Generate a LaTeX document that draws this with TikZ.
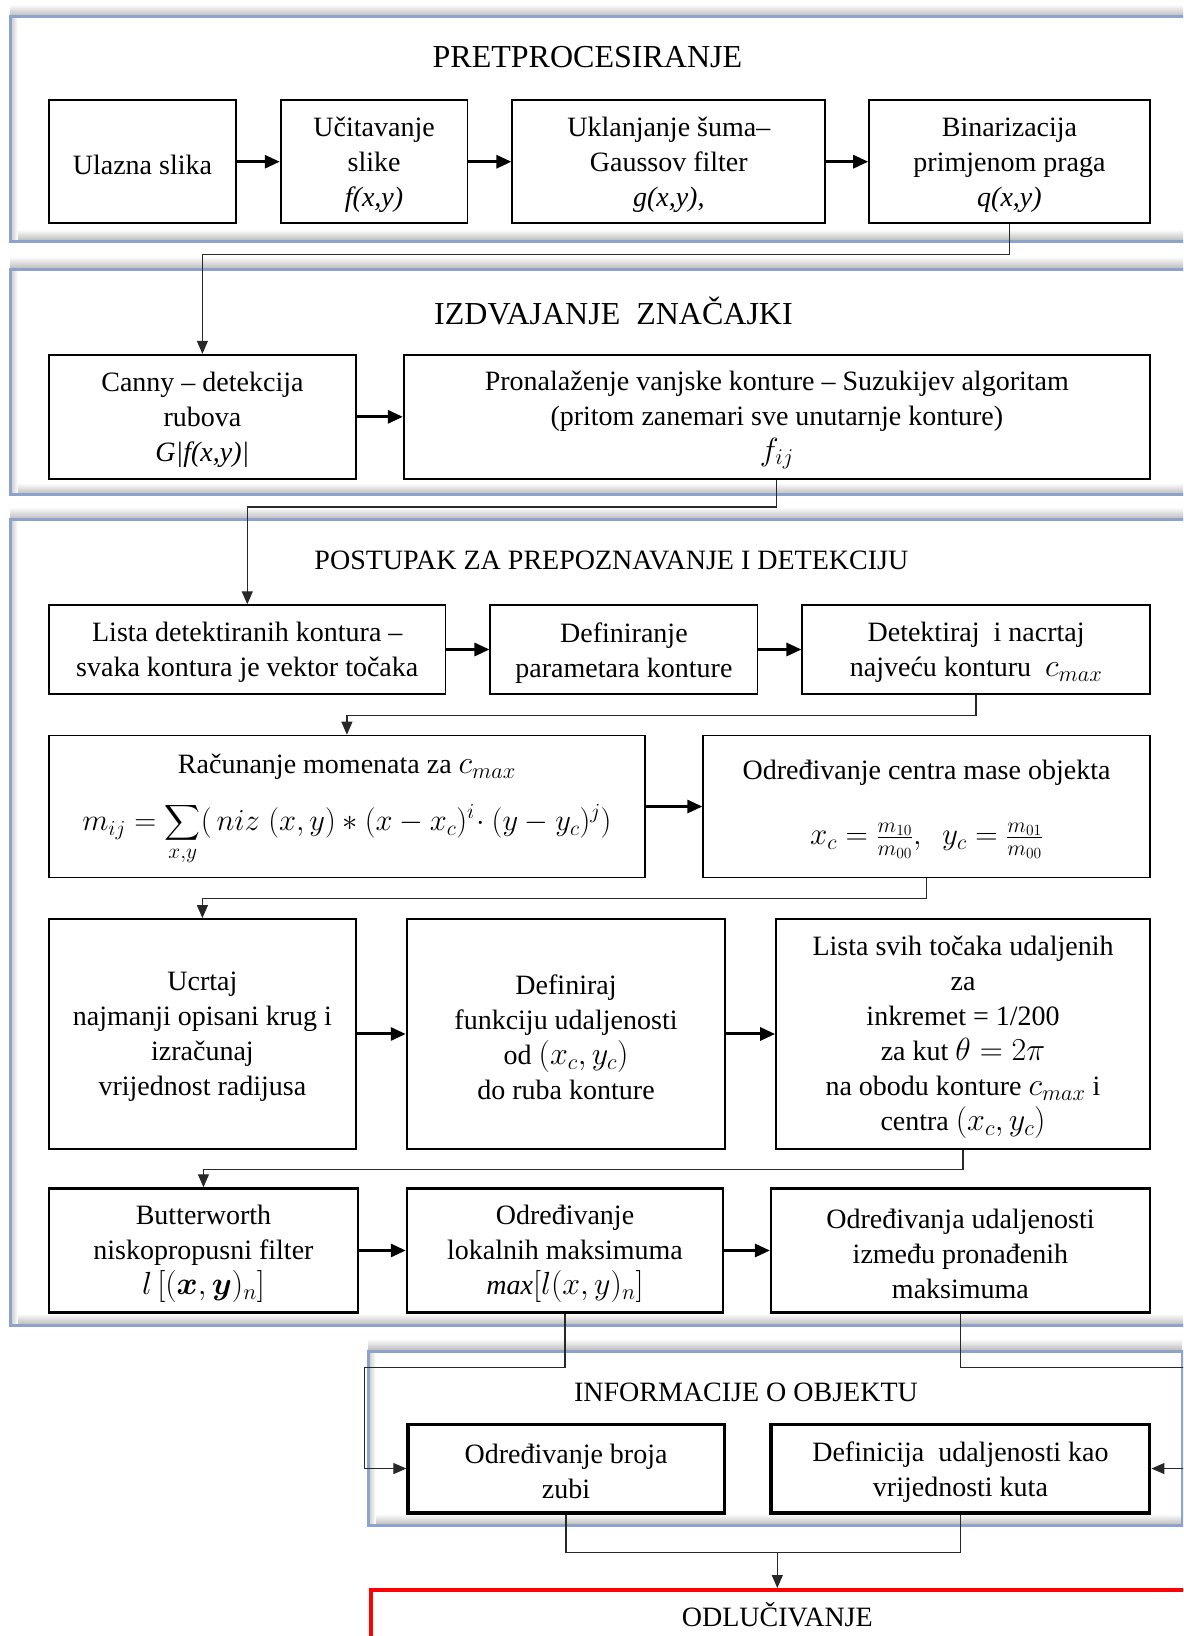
\RequirePackage{fix-cm}
\documentclass[tikz,border=0pt]{standalone}
\usepackage{amsmath}
\usepackage{fontspec}
\setmainfont{Liberation Serif}
\usetikzlibrary{arrows.meta,calc}
\definecolor{frameblue}{RGB}{141,163,204}
\definecolor{conngray}{RGB}{40,40,40}
\tikzset{
  boxs/.style={draw=black, line width=1.8pt, fill=white},
  boxt/.style={boxs, line width=2.3pt},
  boxi/.style={boxs, line width=3.2pt},
  txt/.style={align=center, inner sep=0pt, font=\fontsize{28}{35}\selectfont},
  thickarrow/.style={line width=3pt, -{Triangle[length=15pt,width=13pt]}},
  conn/.style={line width=1.2pt, draw=conngray, -{Triangle[length=13pt,width=11pt]}},
  connplain/.style={line width=1.2pt, draw=conngray},
  ttl/.style={font=\fontsize{28}{34}\selectfont, inner sep=0pt},
  bigttl/.style={font=\fontsize{32}{38}\selectfont, inner sep=0pt},
}
\newcommand\M[1]{{\fontsize{32}{35}\selectfont$#1$}}
\newcommand\mybox[7]{%
  \node[#1, minimum width={(#5-#3)*1.0432pt}, minimum height={(#6-#4)*1.0432pt}] (#2) at ({(#3+#5)/2},{(#4+#6)/2}) {};
  \node[txt] (#2t) at ({(#3+#5)/2},{(#4+#6)/2+3}) {#7};}
\newcommand\mypanel[4]{%
  \shade[top color=white, bottom color=black!28] (#1,#2-12) rectangle (#3,#2);
  \shade[top color=white, bottom color=black!28] (#1,#4-11) rectangle (#3,#4);
  \shade[left color=black!22, right color=white] (#1,#2) rectangle (#1+7,#4);
  \draw[frameblue, line width=3pt] (#1,#2) rectangle (#3,#4);}
\begin{document}
\begin{tikzpicture}[x=1.0432pt, y=-1.0432pt]
\useasboundingbox (0,0) rectangle (1134,1568);
\clip (0,0) rectangle (1134,1568);
\fill[white] (0,0) rectangle (1134,1568);

% panels
\mypanel{10}{16}{1160}{231}
\mypanel{10}{258}{1160}{474}
\mypanel{10}{498}{1160}{1270}
\mypanel{353}{1295}{1133}{1462}
\draw[red, line width=4pt] (356,1524) rectangle (1170,1620);

% titles
\node[bigttl] (t1) at (563,55) {PRETPROCESIRANJE};
\node[bigttl] (t2) at (588,298) {IZDVAJANJE\ \ ZNAČAJKI};
\node[ttl] (t3) at (586,537) {POSTUPAK ZA PREPOZNAVANJE I DETEKCIJU};
\node[ttl] (t4) at (715,1334) {INFORMACIJE O OBJEKTU};
\node[ttl] (t5) at (745,1548) {ODLUČIVANJE};

% row 1
\mybox{boxs}{ul}{47}{96}{226}{214}{Ulazna slika}
\mybox{boxs}{uc}{269}{96}{448}{214}{Učitavanje\\slike\\\textit{f(x,y)}}
\mybox{boxs}{uk}{491}{96}{791}{214}{Uklanjanje šuma–\\Gaussov filter\\\textit{g(x,y),}}
\mybox{boxs}{bin}{833}{96}{1102}{214}{Binarizacija\\primjenom praga\\\textit{q(x,y)}}

% row 2
\mybox{boxs}{can}{47}{340}{341}{459}{Canny – detekcija\\rubova\\\textit{G|f(x,y)|}}
\mybox{boxs}{pro}{387}{340}{1102}{459}{Pronalaženje vanjske konture – Suzukijev algoritam\\(pritom zanemari sve unutarnje konture)\\\M{f_{ij}}}

% row A
\mybox{boxs}{lis}{47}{580}{427}{665}{Lista detektiranih kontura –\\svaka kontura je vektor točaka}
\mybox{boxs}{def}{470}{580}{726}{665}{Definiranje\\parametara konture}
\mybox{boxs}{det}{769}{580}{1102}{665}{Detektiraj\ \ i nacrtaj\\najveću konturu\ \ \M{c_{max}}}

% row B
\mybox{boxs}{rac}{47}{705}{618}{841}{Računanje momenata za \M{c_{max}}\\[22pt]{\fontsize{30.5}{35}\selectfont$\displaystyle m_{ij} = \sum_{x,y}(\,niz\;(x,y) * (x-x_c)^i\!\cdot(y-y_c)^j)$}}
\mybox{boxs}{cen}{674}{705}{1102}{841}{Određivanje centra mase objekta\\[30pt]{\fontsize{31}{35}\selectfont$x_c = \frac{m_{10}}{m_{00}},\ \ y_c = \frac{m_{01}}{m_{00}}$}}

% row C
\mybox{boxt}{ucr}{47}{881}{341}{1101}{Ucrtaj\\najmanji opisani krug i\\izračunaj\\vrijednost radijusa}
\mybox{boxt}{dfr}{390}{881}{695}{1101}{Definiraj\\funkciju udaljenosti\\od \M{(x_c,y_c)}\\do ruba konture}
\mybox{boxt}{lsv}{744}{881}{1102}{1101}{Lista svih točaka udaljenih\\za\\inkremet = 1/200\\za kut \M{\theta = 2\pi}\\na obodu konture \M{c_{max}} i\\centra \M{(x_c,y_c)}}

% row D
\mybox{boxt}{but}{47}{1139}{343}{1258}{Butterworth\\niskopropusni filter\\\M{l\,[(\boldsymbol{x},\boldsymbol{y})_n]}}
\mybox{boxt}{lok}{390}{1139}{693}{1258}{Određivanje\\lokalnih maksimuma\\\textit{max}\M{[l(x,y)_n]}}
\mybox{boxt}{udl}{739}{1139}{1102}{1258}{Određivanja udaljenosti\\između pronađenih\\maksimuma}

% info
\mybox{boxi}{zub}{391}{1365}{694}{1450}{Određivanje broja\\zubi}
\mybox{boxi}{dfk}{739}{1365}{1102}{1450}{Definicija\ \ udaljenosti kao\\vrijednosti kuta}

% thick arrows
\draw[thickarrow] (ul.east) -- (uc.west);
\draw[thickarrow] (uc.east) -- (uk.west);
\draw[thickarrow] (uk.east) -- (bin.west);
\draw[thickarrow] (can.east) -- (pro.west);
\draw[thickarrow] (lis.east) -- (def.west);
\draw[thickarrow] (def.east) -- (det.west);
\draw[thickarrow] (rac.east) -- (cen.west);
\draw[thickarrow] (ucr.east) -- (dfr.west);
\draw[thickarrow] (dfr.east) -- (lsv.west);
\draw[thickarrow] (but.east) -- (lok.west);
\draw[thickarrow] (lok.east) -- (udl.west);

% connectors
\coordinate (h1) at (0,244);
\coordinate (h2) at (0,486);
\coordinate (h3) at (0,686);
\coordinate (h4) at (0,861);
\coordinate (h5) at (0,1121);
\coordinate (h6) at (349,1311);
\coordinate (h7) at (1150,1311);
\coordinate (h8) at (745,1488);
\coordinate (odl) at (745,1522);
\draw[conn] (bin.south) -- (bin.south |- h1) -| (can.north);
\draw[conn] (pro.south) -- (pro.south |- h2) -| (lis.north);
\draw[conn] (det.south) -- (det.south |- h3) -| (rac.north);
\draw[conn] (cen.south) -- (cen.south |- h4) -| (ucr.north);
\draw[conn] (lsv.south) -- (lsv.south |- h5) -| (but.north);
\draw[conn] (lok.south) -- (lok.south |- h6) -- (h6) |- (zub.west);
\draw[conn] (udl.south) -- (udl.south |- h7) -- (h7) |- (dfk.east);
\draw[connplain] (zub.south) |- (h8) -| (dfk.south);
\draw[conn] (h8) -- (odl);
\end{tikzpicture}
\end{document}
